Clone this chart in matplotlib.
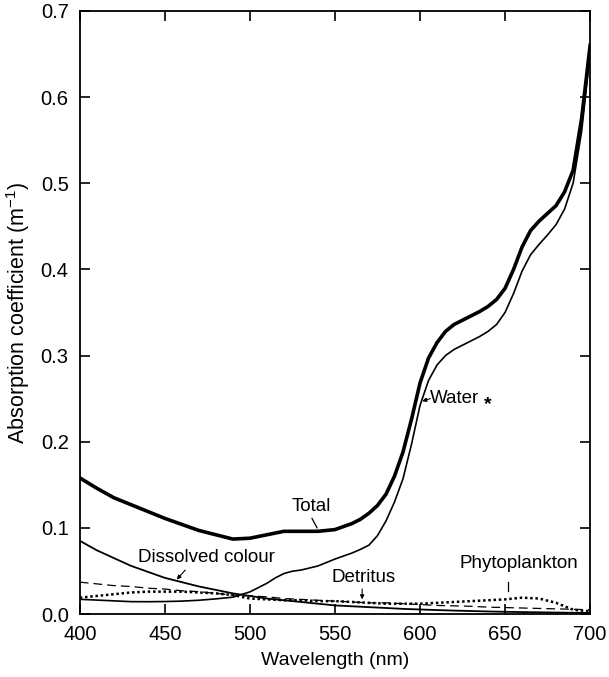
import numpy as np
import matplotlib
matplotlib.use("Agg")
import matplotlib.pyplot as plt

plt.rcParams['font.family'] = ['Liberation Sans', 'DejaVu Sans']
plt.rcParams['mathtext.fontset'] = 'custom'
plt.rcParams['mathtext.rm'] = 'Liberation Sans'
plt.rcParams['mathtext.it'] = 'Liberation Sans:italic'

# wavelength grid for water and total (nm)
wl_fine = [400, 410, 420, 430, 440, 450, 460, 470, 480, 490, 500, 510, 515, 520,
           525, 530, 540, 550, 560, 565, 570, 575, 580, 585, 590, 595, 600, 605,
           610, 615, 620, 625, 630, 635, 640, 645, 650, 655, 660, 665, 670, 675,
           680, 685, 690, 695, 700]
total = [0.158, 0.146, 0.135, 0.127, 0.119, 0.111, 0.104, 0.097, 0.092, 0.087,
         0.088, 0.092, 0.094, 0.096, 0.096, 0.096, 0.096, 0.098, 0.105, 0.110,
         0.117, 0.126, 0.139, 0.160, 0.188, 0.226, 0.268, 0.297, 0.315, 0.328,
         0.336, 0.341, 0.346, 0.351, 0.357, 0.365, 0.378, 0.400, 0.426, 0.445,
         0.456, 0.465, 0.474, 0.490, 0.515, 0.575, 0.660]
water = [0.0171, 0.0162, 0.0153, 0.0144, 0.0143, 0.0145, 0.0150, 0.0160, 0.0176,
         0.0196, 0.0257, 0.0357, 0.0420, 0.0470, 0.0497, 0.0510, 0.0558, 0.0638,
         0.0708, 0.0750, 0.0800, 0.0910, 0.108, 0.130, 0.157, 0.197, 0.242, 0.271,
         0.289, 0.300, 0.307, 0.312, 0.317, 0.322, 0.328, 0.336, 0.350, 0.372,
         0.398, 0.417, 0.429, 0.440, 0.452, 0.470, 0.500, 0.560, 0.650]

# 10 nm grid for the minor components
wl = list(range(400, 701, 10))
dissolved = [0.085, 0.074, 0.065, 0.056, 0.049, 0.042, 0.037, 0.032, 0.028, 0.024,
             0.021, 0.018, 0.016, 0.014, 0.012, 0.010, 0.009, 0.008, 0.007, 0.006,
             0.0053, 0.0046, 0.004, 0.0035, 0.003, 0.0026, 0.0023, 0.002, 0.0017,
             0.0015, 0.0013]
detritus = [0.037, 0.035, 0.033, 0.032, 0.030, 0.029, 0.027, 0.026, 0.024, 0.022,
            0.021, 0.020, 0.018, 0.017, 0.016, 0.015, 0.014, 0.013, 0.013, 0.012,
            0.011, 0.010, 0.0095, 0.009, 0.008, 0.0075, 0.007, 0.0065, 0.006,
            0.0055, 0.005]
phyto = [0.019, 0.021, 0.023, 0.025, 0.026, 0.026, 0.026, 0.025, 0.024, 0.022,
         0.018, 0.017, 0.016, 0.016, 0.015, 0.015, 0.014, 0.013, 0.012, 0.012,
         0.012, 0.013, 0.014, 0.015, 0.016, 0.017, 0.019, 0.018, 0.013, 0.005,
         0.003]

fig = plt.figure(figsize=(6.09, 6.77), dpi=100)
ax = fig.add_axes([0.131, 0.093, 0.838, 0.891])

ax.plot(wl_fine, total, color='black', lw=2.6, solid_joinstyle='round')
ax.plot(wl_fine, water, color='black', lw=1.2, solid_joinstyle='round')
ax.plot(wl, dissolved, color='black', lw=1.3, solid_joinstyle='round')
ax.plot(wl, detritus, color='black', lw=0.9, dashes=(7, 4))
ax.plot(wl, phyto, color='black', lw=1.8, linestyle=(0, (1, 1.1)))

ax.set_xlim(400, 700)
ax.set_ylim(0, 0.7)
ax.set_xticks(np.arange(400, 701, 50))
ax.set_yticks(np.arange(0, 0.71, 0.1))
ax.set_yticklabels([f'{v:.1f}' for v in np.arange(0, 0.71, 0.1)])
ax.tick_params(direction='in', length=7, width=1.2, top=True, right=True,
               labelsize=14.5, pad=8)
for s in ax.spines.values():
    s.set_linewidth(1.3)

ax.set_xlabel('Wavelength (nm)', fontsize=14, labelpad=6)
ax.set_ylabel('Absorption coefficient (m$^{-1}$)', fontsize=15.5, labelpad=6)

# annotations
fs = 13.5
ax.text(536, 0.125, 'Total', fontsize=fs, ha='center', va='center')
ax.plot([536.5, 539.5], [0.111, 0.100], color='black', lw=0.9)

ax.text(606, 0.250, 'Water', fontsize=fs, ha='left', va='center')
ax.annotate('', xy=(601.3, 0.247), xytext=(606, 0.250),
            arrowprops=dict(arrowstyle='-|>', color='black', lw=0.8,
                            mutation_scale=6, shrinkA=0, shrinkB=0))
ax.text(640, 0.243, '*', fontsize=14, fontweight='bold', ha='center', va='center')

ax.text(434, 0.066, 'Dissolved colour', fontsize=fs, ha='left', va='center')
ax.annotate('', xy=(457, 0.040), xytext=(462, 0.051),
            arrowprops=dict(arrowstyle='-|>', color='black', lw=0.8,
                            mutation_scale=6, shrinkA=0, shrinkB=0))

ax.text(567, 0.042, 'Detritus', fontsize=fs, ha='center', va='center')
ax.annotate('', xy=(566, 0.017), xytext=(566, 0.029),
            arrowprops=dict(arrowstyle='-|>', color='black', lw=0.8,
                            mutation_scale=6, shrinkA=0, shrinkB=0))

ax.text(658, 0.059, 'Phytoplankton', fontsize=fs, ha='center', va='center')
ax.plot([652, 652], [0.037, 0.027], color='black', lw=0.9)

fig.savefig('out.png', dpi=100)
